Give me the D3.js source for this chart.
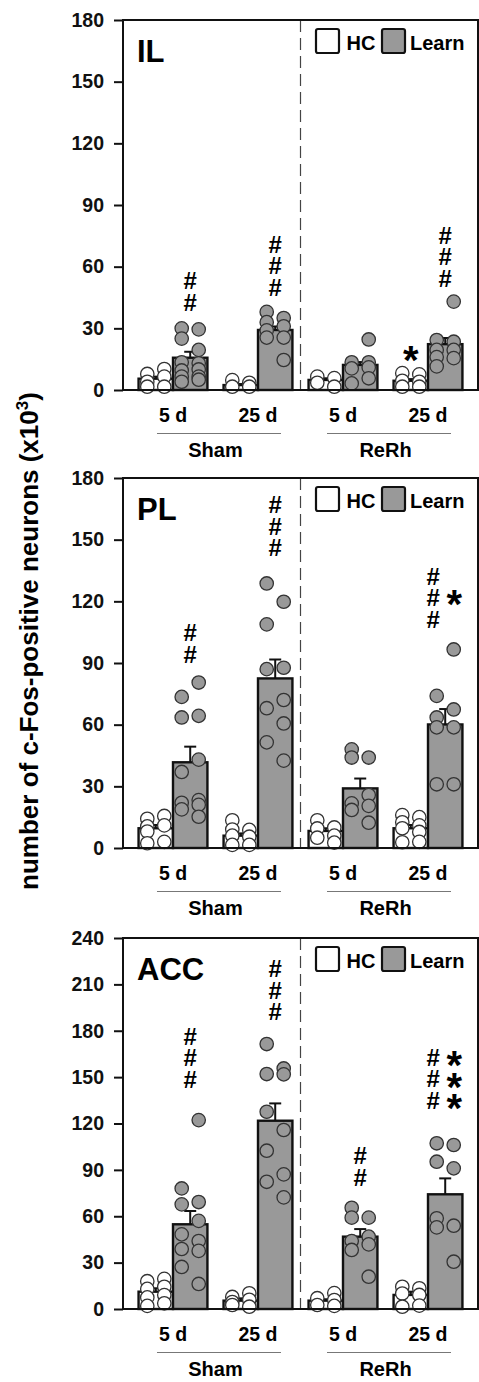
<!DOCTYPE html>
<html><head><meta charset="utf-8">
<script src="https://cdn.jsdelivr.net/npm/d3@7"></script>
<style>
html,body{margin:0;padding:0;background:#fff;}
svg{display:block;font-family:"Liberation Sans",Arial,Helvetica,sans-serif;font-weight:bold;}
</style></head><body>
<svg id="chart" width="479" height="1382"></svg>
<script>
// ---------------- DATA ----------------
const regions = ["IL", "PL", "ACC"];
const lesions = ["Sham", "ReRh"];
const delays = ["5 d", "25 d"];
const conditions = ["HC", "Learn"];
const groups = ["Sham|5 d", "Sham|25 d", "ReRh|5 d", "ReRh|25 d"];
const yMaxes = [180, 180, 240];
const ticksIL = [0, 30, 60, 90, 120, 150, 180];
const ticksPL = [0, 30, 60, 90, 120, 150, 180];
const ticksACC = [0, 30, 60, 90, 120, 150, 180, 210, 240];
const yLabel = "number of c-Fos-positive neurons (x10";
const yLabelSup = "3";

// bar order: Sham5 HC, Sham5 Learn, Sham25 HC, Sham25 Learn, ReRh5 HC, ReRh5 Learn, ReRh25 HC, ReRh25 Learn
const IL_mean = [5.5, 15.7, 2.4, 29.2, 4.9, 12.2, 4.5, 22.3];
const IL_sem  = [1.0, 2.9, 0.5, 1.7, 0.8, 1.4, 0.8, 3.0];
const PL_mean = [9.6, 41.7, 6.0, 82.5, 8.3, 29.0, 9.6, 60.1];
const PL_sem  = [1.6, 7.6, 1.1, 9.2, 1.3, 4.8, 1.6, 7.5];
const ACC_mean = [11.2, 54.8, 5.4, 121.8, 5.4, 46.8, 9.1, 74.2];
const ACC_sem  = [2.2, 8.6, 1.5, 11.2, 0.9, 4.9, 2.1, 10.3];

// individual animals (left column / right column of each bar)
const IL_left = [[7.8,4,1.6],[30,25,13.5,9.5,6.5,4],[4.8,1.6],[38,33,29,25.5],[6.5,3.5],[13.5,10.5,3.2],[8.2,4.5,1.6],[24.3,19.5,16,11.5]];
const IL_right = [[10.2,6.5,1.6],[29.5,19.5,13,10,6.5,5],[3.5,1.6],[35,31,25.5,14.6],[5.8,1.6],[24.6,13.5,11,5.7],[7.6,4,1.6],[43,23.5,19.5,15.5]];
const PL_left = [[14.2,10.5,8,2.3],[73.5,63.5,37,22,18.8],[13.5,9,6,1.5],[128.7,108.8,87,68,51.4],[13.5,9.5,5],[48,44,21.7,18.5],[16,12.5,9.6,2.8],[74,63.5,58.7,31]];
const PL_right = [[15.6,11,3],[80.5,64.3,43,23.3,21,15.2],[8.8,5.5,1.5],[119.8,87.7,72,60.6,42.5],[10,6,2.6],[44,25.8,20.5,12.3],[15,11,7.8,3],[96.6,67.4,58.7,31]];
const ACC_left = [[18,13,7.5,2],[78,67.7,48.3,38.8,27.2],[7.8,4.5,2.6],[171.4,152,127.6,102.4,82.3],[7,2.6],[65.5,59.1,44,38.2],[14.4,10,1.5],[107.2,95.3,58.7,52.8]];
const ACC_right = [[19.5,14.4,9,3.7],[122.2,69.2,57,44,37.6,16.2],[10.2,6,1.5],[155.6,151.8,115.8,87.1,72.2],[10.3,5.8,2],[59.1,46.8,41.8,20.9],[13.4,9.1,2.2],[106.1,91,53.9,30.6]];

// significance marks: bar index, symbol, count, value of lowest mark, side (0 centre, -1 left, 1 right)
const IL_marks = [[1,"#",2,42.8,0],[3,"#",3,50,0],[7,"#",3,54.3,0],[6,"*",1,18.6,0]];
const PL_marks = [[1,"#",2,94.2,0],[3,"#",3,146.2,0],[7,"#",3,111.4,-1],[7,"*",1,122.5,1]];
const ACC_marks = [[1,"#",3,148.6,0],[3,"#",3,192.3,0],[5,"#",2,85.2,0],[7,"#",3,135.2,-1],[7,"*",3,135.2,1]];

const panelData = [
  {name: regions[0], mean: IL_mean, sem: IL_sem, left: IL_left, right: IL_right, marks: IL_marks, ticks: ticksIL, yMax: yMaxes[0]},
  {name: regions[1], mean: PL_mean, sem: PL_sem, left: PL_left, right: PL_right, marks: PL_marks, ticks: ticksPL, yMax: yMaxes[1]},
  {name: regions[2], mean: ACC_mean, sem: ACC_sem, left: ACC_left, right: ACC_right, marks: ACC_marks, ticks: ticksACC, yMax: yMaxes[2]}
];

// ---------------- LAYOUT ----------------
const svg = d3.select("#chart");
const plotLeft = 123, plotRight = 478;
const panelTops = [20, 478, 938];
const panelBottoms = [390, 848, 1309];
const GRAY = "#999999";
const markStep = 21.5;

const x0 = d3.scaleBand().domain(groups).range([plotLeft, plotRight]).paddingInner(0.19).paddingOuter(0.1832);
const x1 = d3.scaleBand().domain(conditions).range([0, x0.bandwidth()]).padding(0);
const barX = i => x0(groups[Math.floor(i / 2)]) + x1(conditions[i % 2]);
const barC = i => barX(i) + x1.bandwidth() / 2;
const colOff = 8.5;

panelData.forEach((p, pi) => {
  const top = panelTops[pi], bot = panelBottoms[pi];
  const y = d3.scaleLinear().domain([0, p.yMax]).range([bot, top]);
  const g = svg.append("g");

  // dashed divider between Sham and ReRh
  const divX = (x0(groups[1]) + x0.bandwidth() + x0(groups[2])) / 2;
  g.append("line").attr("x1", divX).attr("x2", divX).attr("y1", top).attr("y2", bot)
    .attr("stroke", "#444").attr("stroke-width", 1.2).attr("stroke-dasharray", "12,6");

  // bars
  const bars = p.mean.map((m, i) => ({i, m, s: p.sem[i], cond: conditions[i % 2]}));
  g.selectAll("rect.bar").data(bars).enter().append("rect")
    .attr("x", d => barX(d.i)).attr("width", x1.bandwidth())
    .attr("y", d => y(d.m)).attr("height", d => y(0) - y(d.m))
    .attr("fill", d => d.cond === "HC" ? "#fff" : GRAY)
    .attr("stroke", "#111").attr("stroke-width", 2.4);

  // error bars (upward)
  bars.forEach(d => {
    const cx = barC(d.i);
    g.append("line").attr("x1", cx).attr("x2", cx).attr("y1", y(d.m)).attr("y2", y(d.m + d.s))
      .attr("stroke", "#111").attr("stroke-width", 2);
    g.append("line").attr("x1", cx - 6).attr("x2", cx + 6).attr("y1", y(d.m + d.s)).attr("y2", y(d.m + d.s))
      .attr("stroke", "#111").attr("stroke-width", 2);
  });

  // individual dots
  const dots = [];
  p.left.forEach((arr, i) => arr.forEach(v => dots.push({i, v, side: -1})));
  p.right.forEach((arr, i) => arr.forEach(v => dots.push({i, v, side: 1})));
  g.selectAll("circle.dot").data(dots).enter().append("circle")
    .attr("cx", d => barC(d.i) + d.side * colOff).attr("cy", d => y(d.v)).attr("r", 6.7)
    .attr("fill", d => conditions[d.i % 2] === "HC" ? "#fff" : GRAY)
    .attr("stroke", "#333").attr("stroke-width", 1.3);

  // frame
  g.append("rect").attr("x", plotLeft).attr("y", top).attr("width", plotRight - plotLeft).attr("height", bot - top)
    .attr("fill", "none").attr("stroke", "#111").attr("stroke-width", 2);

  // y axis
  const ax = g.append("g").attr("transform", `translate(${plotLeft},0)`)
    .call(d3.axisLeft(y).tickValues(p.ticks).tickSize(9).tickPadding(10).tickFormat(d3.format("d")));
  ax.select(".domain").remove();
  ax.selectAll(".tick line").attr("stroke", "#111").attr("stroke-width", 2);
  ax.selectAll(".tick text").attr("font-size", 19.5).attr("font-weight", "bold")
    .attr("font-family", '"Liberation Sans",Arial,sans-serif').attr("fill", "#111");

  // panel title
  g.append("text").attr("x", plotLeft + 14).attr("y", top + 42).attr("font-size", 31).text(p.name);

  // legend
  const lg = g.append("g");
  [[316, 346.5, conditions[0], "#fff"], [382, 410, conditions[1], GRAY]].forEach(([bx, tx, lab, fill]) => {
    lg.append("rect").attr("x", bx).attr("y", top + 9).attr("width", 23).attr("height", 24).attr("rx", 2)
      .attr("fill", fill).attr("stroke", "#111").attr("stroke-width", 2.2);
    lg.append("text").attr("x", tx).attr("y", top + 30).attr("font-size", 20).text(lab);
  });

  // significance marks: one text per stack, each glyph positioned via x/y lists
  p.marks.forEach(([bi, sym, n, base, side]) => {
    const cx = barC(bi) + (side === 0 ? 0 : side < 0 ? -12 : 9);
    const isHash = sym === "#";
    const baseOff = isHash ? 8.5 : 22; // glyph centre -> baseline
    const ys = d3.range(n).map(k => (y(base) - (n - 1 - k) * markStep + baseOff).toFixed(1));
    const xs = d3.range(n).map(() => cx.toFixed(1));
    g.append("text").attr("x", xs.join(" ")).attr("y", ys.join(" ")).attr("text-anchor", "middle")
      .attr("font-size", isHash ? 24 : 40).text(sym.repeat(n));
  });

  // x labels
  groups.forEach(gr => {
    const cx = x0(gr) + x0.bandwidth() / 2;
    g.append("text").attr("x", cx).attr("y", bot + 32).attr("text-anchor", "middle").attr("font-size", 19.5)
      .text(gr.split("|")[1]);
  });
  lesions.forEach((les, li) => {
    const gA = groups[li * 2], gB = groups[li * 2 + 1];
    const cA = x0(gA) + x0.bandwidth() / 2, cB = x0(gB) + x0.bandwidth() / 2;
    g.append("line").attr("x1", cA - 16).attr("x2", cB + 23).attr("y1", bot + 43.5).attr("y2", bot + 43.5)
      .attr("stroke", "#777").attr("stroke-width", 1);
    g.append("text").attr("x", (cA + cB) / 2).attr("y", bot + 67).attr("text-anchor", "middle").attr("font-size", 20)
      .text(les);
  });
});

// y axis title
const yl = svg.append("text").attr("transform", "translate(38,641) rotate(-90)")
  .attr("text-anchor", "middle").attr("font-size", 26);
yl.append("tspan").text(yLabel);
yl.append("tspan").attr("font-size", 17).attr("dy", -10).text(yLabelSup);
yl.append("tspan").attr("dy", 10).text(")");
</script>
</body></html>
